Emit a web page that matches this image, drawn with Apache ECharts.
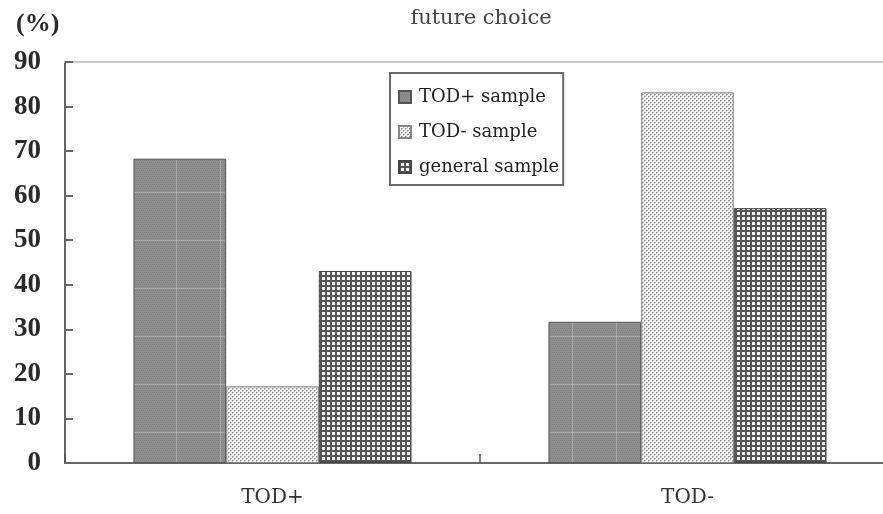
<!DOCTYPE html>
<html>
<head>
<meta charset="utf-8">
<script src="https://cdn.jsdelivr.net/npm/echarts@6/dist/echarts.min.js"></script>
<style>html,body{margin:0;padding:0;background:#fff;overflow:hidden}#c{width:883px;height:514px}</style>
</head>
<body>
<div id="c"></div>
<script>
const categories = ['TOD+', 'TOD-'];
const seriesNames = ['TOD+ sample', 'TOD- sample', 'general sample'];
const todPlusSample = [68.3, 31.7];
const todMinusSample = [17.2, 83.2];
const generalSample = [43.1, 57.2];
const yTicks = [0, 10, 20, 30, 40, 50, 60, 70, 80, 90];

function makeCanvas(w, h, draw) {
  const c = document.createElement('canvas');
  c.width = w; c.height = h;
  draw(c.getContext('2d'));
  return c;
}
// dark bar: mid-gray with fine dots and faint light grid lines
const darkPat = makeCanvas(44, 48, g => {
  g.fillStyle = '#8f8f8f'; g.fillRect(0, 0, 44, 48);
  g.fillStyle = '#808080';
  for (let y = 0; y < 48; y += 2) for (let x = (y % 4 === 0 ? 0 : 1); x < 44; x += 2) g.fillRect(x, y, 1, 1);
  g.fillStyle = 'rgba(205,205,205,0.45)';
  g.fillRect(0, 0, 1, 48); g.fillRect(0, 0, 44, 1);
});
// dotted bar: light checker dots
const dotPat = makeCanvas(4, 4, g => {
  g.fillStyle = '#f2f2f2'; g.fillRect(0, 0, 4, 4);
  g.fillStyle = '#8a8a8a';
  g.fillRect(0, 0, 1, 1); g.fillRect(2, 2, 1, 1);
  g.fillStyle = '#bcbcbc';
  g.fillRect(1, 0, 1, 1); g.fillRect(3, 2, 1, 1); g.fillRect(0, 1, 1, 1); g.fillRect(2, 3, 1, 1);
});
// grid bar: dark crosshatch
const gridPat = makeCanvas(5, 5, g => {
  g.fillStyle = '#f4f4f4'; g.fillRect(0, 0, 5, 5);
  g.fillStyle = '#555555';
  g.fillRect(0, 0, 2, 5); g.fillRect(0, 0, 5, 2);
});

const serif = '"DejaVu Serif", "Liberation Serif", serif';
const numSerif = '"Liberation Serif", "DejaVu Serif", serif';
const chart = echarts.init(document.getElementById('c'), null, { renderer: 'canvas' });

function bar(name, data, pat, border) {
  return {
    name: name, type: 'bar', data: data, barGap: '0%', barCategoryGap: '33%',
    itemStyle: { color: { image: pat, repeat: 'repeat' }, borderColor: border, borderWidth: 1 },
    emphasis: { disabled: true }
  };
}

chart.setOption({
  animation: false,
  title: [
    { text: '(%)', left: 11, top: 6, textStyle: { fontFamily: numSerif, fontSize: 26, fontWeight: 'bold', color: '#2a2a2a' } },
    { text: 'future choice', left: 476, top: 3, textAlign: 'center', textStyle: { fontFamily: serif, fontSize: 21, fontWeight: 'normal', color: '#444' } }
  ],
  legend: {
    orient: 'vertical', left: 390, top: 73, width: 169,
    backgroundColor: '#fff', borderColor: '#6a6a6a', borderWidth: 2,
    padding: [15, 4, 9, 8], itemGap: 17, itemWidth: 12, itemHeight: 12,
    icon: 'rect',
    textStyle: { fontFamily: serif, fontSize: 18, color: '#222', padding: [0, 0, 0, 3] },
    data: seriesNames
  },
  grid: { left: 65, width: 830, top: 62, bottom: 51, outerBoundsMode: 'none', containLabel: false },
  xAxis: [
    {
      type: 'category', data: categories,
      axisLine: { lineStyle: { color: '#666', width: 2 } },
      axisTick: { show: true, inside: true, length: 9, interval: 0, lineStyle: { color: '#555', width: 1.5 } },
      axisLabel: { fontFamily: serif, fontSize: 20, color: '#333', margin: 25 }
    },
    {
      type: 'category', data: categories, position: 'top',
      axisLine: { lineStyle: { color: '#c8c8c8', width: 2 } },
      axisTick: { show: false }, axisLabel: { show: false }
    }
  ],
  yAxis: {
    type: 'value', min: yTicks[0], max: yTicks[yTicks.length - 1], interval: 10,
    axisLine: { show: true, lineStyle: { color: '#666', width: 2 } },
    axisTick: { show: true, inside: true, length: 8, lineStyle: { color: '#666', width: 2 } },
    axisLabel: { fontFamily: numSerif, fontSize: 27, fontWeight: 'bold', color: '#2a2a2a', margin: 24 },
    splitLine: { show: false }
  },
  series: [
    bar(seriesNames[0], todPlusSample, darkPat, '#555'),
    bar(seriesNames[1], todMinusSample, dotPat, '#888'),
    bar(seriesNames[2], generalSample, gridPat, '#444')
  ]
});
</script>
</body>
</html>
